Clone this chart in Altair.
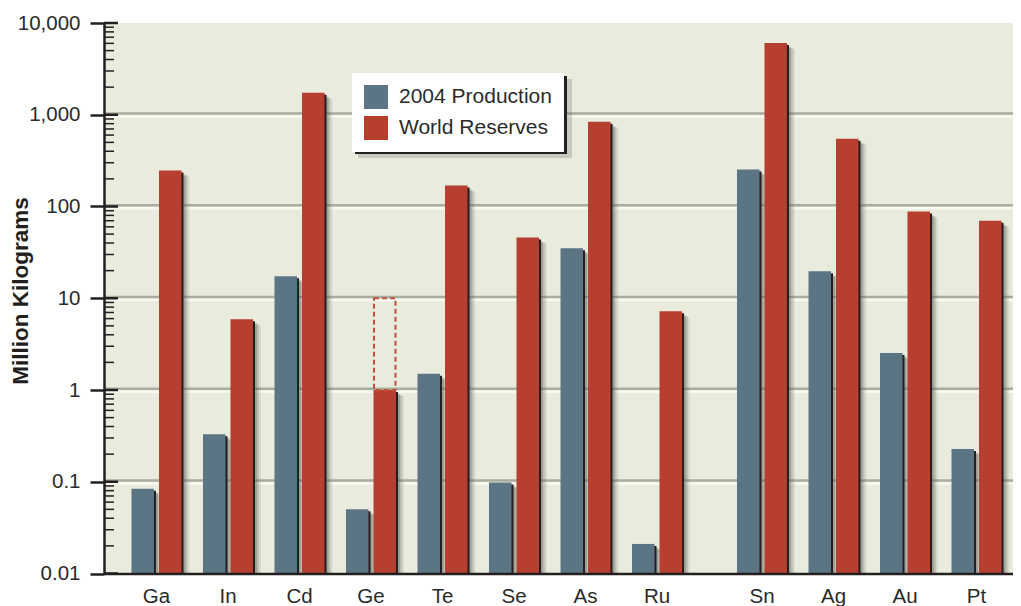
import altair as alt
import pandas as pd

# ---------------- data ----------------
left_elements = ["Ga", "In", "Cd", "Ge", "Te", "Se", "As", "Ru"]
right_elements = ["Sn", "Ag", "Au", "Pt"]
production = [0.084, 0.33, 17.4, 0.05, 1.5, 0.098, 35, 0.021, 253, 19.7, 2.53, 0.228]
reserves = [247, 5.9, 1740, 1.0, 169, 46, 840, 7.2, 6050, 548, 88, 70]
series_names = ["2004 Production", "World Reserves"]
ge_element = ["Ge"]
ge_low = [1]
ge_high = [10]
major_ticks = [0.01, 0.1, 1, 10, 100, 1000, 10000]
grid_values = [0.1, 1, 10, 100, 1000]
minor_multipliers = [2, 3, 4, 5, 6, 7, 8, 9]
decade_exponents = [-2, -1, 0, 1, 2, 3]

# ---------------- styles ----------------
BLUE = "#5b7585"
RED = "#b73f2f"
BG = "#e9ebdd"
GRID = "#a8ad9d"
INK = "#231f20"
TEXT = "#2b2b2b"
SHADOW = "#5f625a"
FONT = "Liberation Sans"
BAR_W = 22.5
HALF = 13.75

elements = left_elements + right_elements
rows = []
for i, el in enumerate(elements):
    side = "left" if i < len(left_elements) else "right"
    rows.append({"element": el, "series": series_names[0], "value": production[i], "side": side})
    rows.append({"element": el, "series": series_names[1], "value": reserves[i], "side": side})
df = pd.DataFrame(rows)
ge_df = pd.DataFrame({"element": ge_element, "lo": ge_low, "hi": ge_high})
minor_df = pd.DataFrame({"v": [m * 10.0 ** e for e in decade_exponents for m in minor_multipliers]})
major_df = pd.DataFrame({"v": major_ticks})
grid_df = pd.DataFrame({"v": grid_values})

Y_SCALE = alt.Scale(type="log", domain=[0.01, 10000], nice=False)
Y_AXIS = alt.Axis(
    values=major_ticks, format=",~g", grid=False,
    tickSize=14, tickWidth=2.5, tickColor=INK,
    domainColor=INK, domainWidth=2.5,
    labelFontSize=20.5, labelPadding=10, labelColor=TEXT, labelFont=FONT,
    title="Million Kilograms", titleFontSize=22.5, titleFont=FONT,
    titleFontWeight="bold", titleColor=INK, titleAngle=270,
    titleX=-83.5, titleY=267.5, titleAlign="center", titleBaseline="middle",
    zindex=1,
)

color_enc = alt.Color(
    "series:N",
    scale=alt.Scale(domain=series_names, range=[BLUE, RED]),
    legend=alt.Legend(
        orient="none", legendX=248, legendY=50, title=None,
        fillColor="white", padding=12, symbolType="square", symbolSize=576,
        symbolStrokeWidth=0, symbolOpacity=1, labelFontSize=21, labelOffset=11,
        rowPadding=7, labelColor=TEXT, labelFont=FONT, labelLimit=300,
    ),
)


def y_enc(field):
    # every layer carries the identical axis definition so the shared axis merges cleanly
    return alt.Y(field, type="quantitative", scale=Y_SCALE, axis=Y_AXIS, title="Million Kilograms")


def x_enc(elems, rng):
    return alt.X(
        "element:N", sort=elems, title=None,
        scale=alt.Scale(domain=elems, range=rng, paddingInner=0.3, paddingOuter=0.384),
        axis=alt.Axis(
            orient="bottom", ticks=False, tickSize=0, labelFontSize=20.5,
            labelPadding=13, labelAngle=0, labelColor=TEXT, labelFont=FONT,
            domainColor=INK, domainWidth=2.5, grid=False, zindex=1,
        ),
    )


def side_layer(side, elems, rng):
    sd = df[df.side == side]
    xe = x_enc(elems, rng)
    layers = []
    shadow_specs = [(4, 4, SHADOW, 0.35), (6, 5, SHADOW, 0.22), (8, 6, SHADOW, 0.12), (2, 2, INK, 1.0)]
    for dx, dy, col, op in shadow_specs:
        for k, s in enumerate(series_names):
            off = -HALF if k == 0 else HALF
            layers.append(
                alt.Chart(sd[sd.series == s]).mark_bar(
                    width=BAR_W, xOffset=off + dx, yOffset=dy, color=col, opacity=op, clip=True
                ).encode(x=xe, y=y_enc("value"), y2=alt.datum(0.01))
            )
    for k, s in enumerate(series_names):
        off = -HALF if k == 0 else HALF
        layers.append(
            alt.Chart(sd[sd.series == s]).mark_bar(width=BAR_W, xOffset=off, opacity=1).encode(
                x=xe, y=y_enc("value"), y2=alt.datum(0.01), color=color_enc
            )
        )
    if side == "left":
        layers.append(
            alt.Chart(ge_df).mark_bar(
                width=BAR_W - 1, xOffset=HALF, fill=RED, fillOpacity=0, stroke="#c4503e",
                strokeWidth=2, strokeDash=[5, 3],
            ).encode(x=xe, y=y_enc("hi"), y2="lo:Q")
        )
    return alt.layer(*layers)


one = pd.DataFrame({"a": [0]})
panel_bg = alt.Chart(one).mark_rect(color=BG).encode(
    x=alt.value(0), x2=alt.value("width"), y=alt.value(0), y2=alt.value("height")
)
grid_gray = alt.Chart(grid_df).mark_rule(color=GRID, strokeWidth=2.6, yOffset=-1.2).encode(y=y_enc("v"))
grid_white = alt.Chart(grid_df).mark_rule(color="#f8f9f3", strokeWidth=2.4, yOffset=1.8).encode(y=y_enc("v"))
inner_major = alt.Chart(major_df).mark_rule(color=INK, strokeWidth=2.5).encode(
    y=y_enc("v"), x=alt.value(0), x2=alt.value(14)
)
inner_minor = alt.Chart(minor_df).mark_rule(color=INK, strokeWidth=1.5).encode(
    y=y_enc("v"), x=alt.value(0), x2=alt.value(10)
)
legend_soft = alt.Chart(one).mark_rect(color=SHADOW, opacity=0.25).encode(
    x=alt.value(254), x2=alt.value(468), y=alt.value(56), y2=alt.value(135)
)
legend_dark = alt.Chart(one).mark_rect(color=INK).encode(
    x=alt.value(251), x2=alt.value(463), y=alt.value(53), y2=alt.value(131)
)

left = side_layer("left", left_elements, [0, 605.5])
right = side_layer("right", right_elements, [605.5, 925])

chart = (
    alt.layer(panel_bg, grid_gray, grid_white, left, right, inner_major, inner_minor, legend_soft, legend_dark)
    .resolve_scale(x="independent")
    .properties(
        width=909, height=550.5,
        autosize=alt.AutoSizeParams(type="none"),
        padding={"left": 96, "top": 15, "right": 0, "bottom": 33},
        background="white",
    )
    .configure_view(stroke=None)
    .configure(font=FONT)
)

chart.save("out.html", embed_options={"renderer": "svg", "actions": False})
